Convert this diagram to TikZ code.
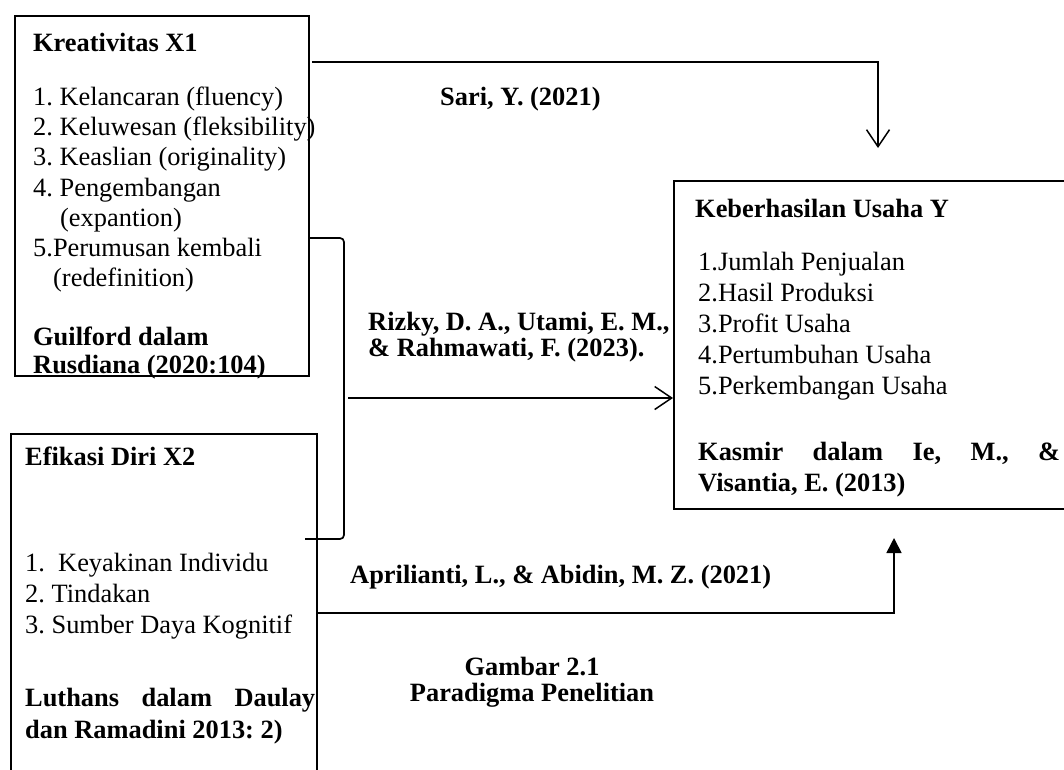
\documentclass[tikz,border=0pt]{standalone}
\usepackage{fontspec}
\setmainfont{Liberation Serif}
\usetikzlibrary{arrows.meta}
\frenchspacing
\begin{document}
\begin{tikzpicture}[x=1pt,y=-1pt,
  box/.style={draw, line width=1.8pt, anchor=north west, inner sep=0pt},
  txt/.style={anchor=base west, inner sep=0pt, font=\fontsize{26.4}{30}\selectfont\frenchspacing},
  btxt/.style={anchor=base west, inner sep=0pt, font=\fontsize{26.4}{30}\selectfont\bfseries\frenchspacing},
  ctxt/.style={anchor=base, inner sep=0pt, font=\fontsize{26.4}{30}\selectfont\bfseries\frenchspacing},
  conn/.style={line width=1.7pt},
  openarrow/.style={conn, -{Straight Barb[length=17pt,width=23pt,line width=1.5pt]}},
  filledarrow/.style={conn, -{Triangle[length=15pt,width=15pt]}}]
\useasboundingbox (0,0) rectangle (1064,769);
\clip (0,0) rectangle (1064,769);
% boxes
\node[box, minimum width=294pt, minimum height=360pt] (k1) at (14,15) {};
\node[box, minimum width=306pt, minimum height=380pt] (k2) at (10,433) {};
\node[box, minimum width=420pt, minimum height=328pt] (k3) at (673,180) {};
% box 1 text
\node[btxt] (a0) at (33,51) {Kreativitas X1};
\node[txt] (a1) at (33,105) {1. Kelancaran (fluency)};
\node[txt] (a2) at (33,135) {2. Keluwesan (fleksibility)};
\node[txt] (a3) at (33,165) {3. Keaslian (originality)};
\node[txt] (a4) at (33,196) {4. Pengembangan};
\node[txt] (a5) at (60,226) {(expantion)};
\node[txt] (a6) at (33,256) {5.Perumusan kembali};
\node[txt] (a7) at (53,286) {(redefinition)};
\node[btxt] (a8) at (33,345) {Guilford dalam};
\node[btxt] (a9) at (33,373) {Rusdiana (2020:104)};
% box 2 text
\node[btxt] (b0) at (25,465) {Efikasi Diri X2};
\node[txt] (b1) at (25,571) {1.\ \ Keyakinan Individu};
\node[txt] (b2) at (25,602) {2. Tindakan};
\node[txt] (b3) at (25,633) {3. Sumber Daya Kognitif};
\node[btxt] (b4) at (25,706) {\hbox to 290pt{Luthans\hfill dalam\hfill Daulay}};
\node[btxt] (b5) at (25,738) {dan Ramadini 2013: 2)};
% box 3 text
\node[btxt] (c0) at (695,217) {Keberhasilan Usaha Y};
\node[txt] (c1) at (698,270) {1.Jumlah Penjualan};
\node[txt] (c2) at (698,301) {2.Hasil Produksi};
\node[txt] (c3) at (698,332) {3.Profit Usaha};
\node[txt] (c4) at (698,363) {4.Pertumbuhan Usaha};
\node[txt] (c5) at (698,394) {5.Perkembangan Usaha};
\node[btxt] (c6) at (698,460) {\hbox to 362pt{Kasmir\hfill dalam\hfill Ie,\hfill M.,\hfill \&}};
\node[btxt] (c7) at (698,491) {Visantia, E. (2013)};
% labels
\node[btxt] (l1) at (440,105) {Sari, Y. (2021)};
\node[btxt] (l2) at (368,330) {Rizky, D. A., Utami, E. M.,};
\node[btxt] (l3) at (368,356) {\& Rahmawati, F. (2023).};
\node[btxt] (l4) at (350,583) {Aprilianti, L., \& Abidin, M. Z. (2021)};
\node[ctxt] (g1) at (532,675) {Gambar 2.1};
\node[ctxt] (g2) at (532,701) {Paradigma Penelitian};
% connector end points
\coordinate (topend) at (878,148);
\coordinate (botend) at (894,538);
\coordinate (brk) at (344,238);
\coordinate (brkb) at (305,539);
\coordinate (midstart) at (348,398);
% connectors
\draw[openarrow] ([xshift=2pt]k1.east |- 0,62) -| (topend);
\draw[conn, rounded corners=4pt] (k1.east |- brk) -- (brk) -- (brk |- brkb) -- (brkb);
\draw[openarrow] (midstart) -- (k3.west |- midstart);
\draw[filledarrow] (k2.east |- 0,613) -| (botend);
\end{tikzpicture}
\end{document}
